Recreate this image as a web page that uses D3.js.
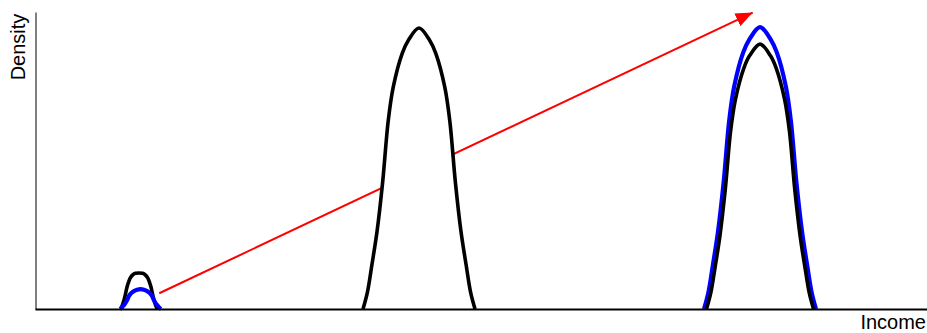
<!DOCTYPE html>
<html>
<head>
<meta charset="utf-8">
<script src="https://cdn.jsdelivr.net/npm/d3@7"></script>
<style>
  body { margin: 0; background: #fff; }
  text { font-family: "Liberation Sans", Arial, sans-serif; }
</style>
</head>
<body>
<div id="chart"></div>
<script>

// income values (x) and densities (y)
var incomeLowBlack = [9.59, 9.76, 9.92, 10.11, 10.31, 10.52, 10.71, 11.04, 11.27, 11.66, 12.05, 12.28, 12.61, 12.80, 13.01, 13.21, 13.40, 13.56, 13.73];
var densityLowBlack = [0, 0.010, 0.024, 0.046, 0.073, 0.093, 0.106, 0.117, 0.120, 0.121, 0.120, 0.117, 0.106, 0.093, 0.073, 0.046, 0.024, 0.010, 0];

var incomeLowBlue = [9.53, 9.71, 9.90, 10.10, 10.33, 10.56, 10.77, 11.14, 11.39, 11.83, 12.27, 12.52, 12.89, 13.10, 13.33, 13.56, 13.76, 13.95, 14.13];
var densityLowBlue = [0, 0.004, 0.011, 0.018, 0.030, 0.045, 0.053, 0.061, 0.064, 0.067, 0.064, 0.061, 0.053, 0.045, 0.030, 0.018, 0.011, 0.004, 0];

var incomeMid = [36.77, 37.27, 37.77, 38.34, 38.97, 39.60, 40.16, 41.17, 41.86, 43.05, 44.24, 44.93, 45.94, 46.50, 47.13, 47.76, 48.33, 48.83, 49.33];
var densityMid = [0, 0.057, 0.149, 0.260, 0.426, 0.634, 0.747, 0.861, 0.905, 0.946, 0.905, 0.861, 0.747, 0.634, 0.426, 0.260, 0.149, 0.057, 0];

var incomeHighBlack = [75.28, 75.76, 76.24, 76.78, 77.38, 77.98, 78.52, 79.48, 80.14, 81.28, 82.42, 83.08, 84.04, 84.58, 85.18, 85.78, 86.32, 86.80, 87.28];
var densityHighBlack = [0, 0.054, 0.140, 0.245, 0.401, 0.598, 0.705, 0.812, 0.854, 0.892, 0.854, 0.812, 0.705, 0.598, 0.401, 0.245, 0.140, 0.054, 0];

var incomeHighBlue = [75.00, 75.50, 76.00, 76.57, 77.20, 77.83, 78.39, 79.40, 80.09, 81.28, 82.47, 83.16, 84.17, 84.73, 85.36, 85.99, 86.56, 87.06, 87.56];
var densityHighBlue = [0, 0.057, 0.149, 0.261, 0.427, 0.636, 0.750, 0.864, 0.908, 0.949, 0.908, 0.864, 0.750, 0.636, 0.427, 0.261, 0.149, 0.057, 0];

// arrow: [income, density] of start and tip
var arrowFrom = [13.93, 0.053];
var arrowTo = [80.46, 0.998];

var axisLabels = ["Income", "Density"];

function zip(xs, ys) {
    var pts = [];
    for (var i = 0; i < xs.length; i++) {
        pts.push({x: xs[i], y: ys[i]});
    }
    return pts;
}

var curves = [
    {p: zip(incomeLowBlack, densityLowBlack), c: "#000", w: 3.6},
    {p: zip(incomeLowBlue, densityLowBlue), c: "#0000ff", w: 4.2},
    {p: zip(incomeMid, densityMid), c: "#000", w: 3.6},
    {p: zip(incomeHighBlue, densityHighBlue), c: "#0000ff", w: 4.2},
    {p: zip(incomeHighBlack, densityHighBlack), c: "#000", w: 3.6}
];

var W = 927, H = 333;

var x = d3.scaleLinear().domain([0, 100]).range([35, 927]);
var y = d3.scaleLinear().domain([0, 1]).range([309, 12]);

var svg = d3.select("#chart").append("svg")
        .attr("width", W)
        .attr("height", H);

var defs = svg.append("defs");
defs.append("marker")
        .attr("id", "head")
        .attr("markerUnits", "userSpaceOnUse")
        .attr("markerWidth", 18)
        .attr("markerHeight", 15)
        .attr("refX", 17)
        .attr("refY", 7)
        .attr("orient", "auto")
        .append("path")
        .attr("d", "M0,0L17,7L0,14Z")
        .attr("fill", "#ff0000");

/* arrow first, the curves cover it */
svg.append("line")
        .attr("x1", x(arrowFrom[0]))
        .attr("y1", y(arrowFrom[1]))
        .attr("x2", x(arrowTo[0]))
        .attr("y2", y(arrowTo[1]))
        .attr("stroke", "#ff0000")
        .attr("stroke-width", 2)
        .attr("marker-end", "url(#head)");

var line = d3.line()
        .x(function (d) { return x(d.x); })
        .y(function (d) { return y(d.y); })
        .curve(d3.curveCatmullRom.alpha(0.5));

var area = d3.area()
        .x(function (d) { return x(d.x); })
        .y0(y(0))
        .y1(function (d) { return y(d.y); })
        .curve(d3.curveCatmullRom.alpha(0.5));

svg.selectAll("path.fill")
        .data(curves)
        .enter().append("path")
        .attr("class", "fill")
        .attr("d", function (d) { return area(d.p); })
        .attr("fill", "#fff");

svg.selectAll("path.curve")
        .data(curves)
        .enter().append("path")
        .attr("class", "curve")
        .attr("d", function (d) { return line(d.p); })
        .attr("fill", "none")
        .attr("stroke", function (d) { return d.c; })
        .attr("stroke-width", function (d) { return d.w; })
        .attr("stroke-linejoin", "round");

/* axes: only the lines, no ticks */
svg.append("g")
        .attr("transform", "translate(0," + y(0) + ")")
        .call(d3.axisBottom(x).ticks(0).tickSizeOuter(0))
        .select(".domain")
        .attr("stroke", "#000")
        .attr("stroke-width", 2);

svg.append("g")
        .attr("transform", "translate(" + (x(0) + 0.5) + ",0)")
        .call(d3.axisLeft(y).ticks(0).tickSizeOuter(0))
        .select(".domain")
        .attr("stroke", "#000")
        .attr("stroke-width", 1);

svg.append("text")
        .text(axisLabels[0])
        .attr("x", 926)
        .attr("y", 329)
        .attr("text-anchor", "end")
        .attr("font-size", "20px")
        .attr("fill", "#000");

svg.append("text")
        .text(axisLabels[1])
        .attr("transform", "translate(25,47) rotate(-90)")
        .attr("text-anchor", "middle")
        .attr("font-size", "20px")
        .attr("fill", "#000");

</script>
</body>
</html>
